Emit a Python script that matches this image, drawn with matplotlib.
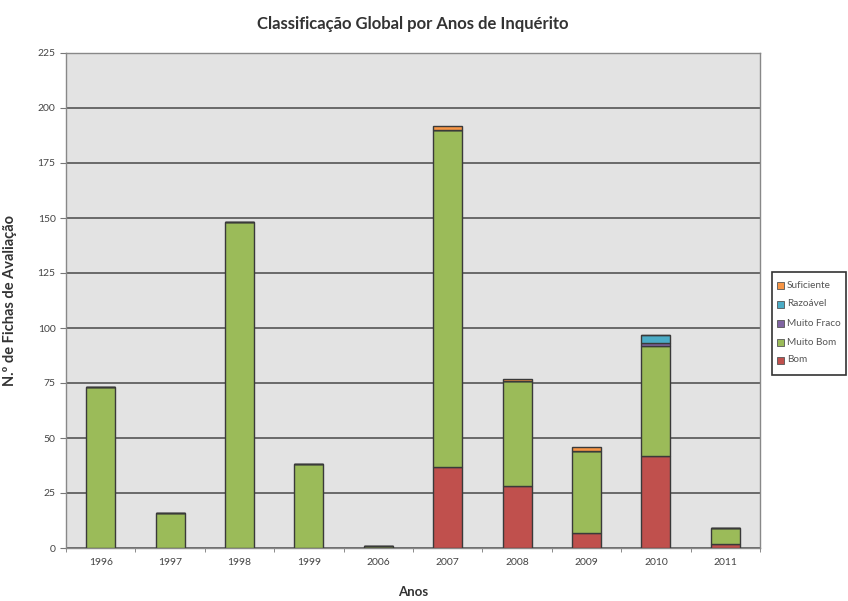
import matplotlib
matplotlib.use("Agg")
import matplotlib.pyplot as plt
from matplotlib.patches import Rectangle
import numpy as np

plt.rcParams["font.family"] = ["Lato", "DejaVu Sans"]

# Data
anos = ["1996", "1997", "1998", "1999", "2006", "2007", "2008", "2009", "2010", "2011"]
bom = [0, 0, 0, 0, 0, 37, 28, 7, 42, 2]
muito_bom = [73, 16, 148, 38, 1, 153, 48, 37, 50, 7]
muito_fraco = [0, 0, 0, 0, 0, 0, 0, 0, 1, 0]
razoavel = [0, 0, 0, 0, 0, 0, 0, 0, 4, 0]
suficiente = [0, 0, 0, 0, 0, 2, 1, 2, 0, 0]

series = [
    ("Bom", bom, "#c0504d"),
    ("Muito Bom", muito_bom, "#9bbb59"),
    ("Muito Fraco", muito_fraco, "#8064a2"),
    ("Razoável", razoavel, "#4bacc6"),
    ("Suficiente", suficiente, "#f79646"),
]

W, H = 848, 601
fig = plt.figure(figsize=(W / 100, H / 100), dpi=100)
ax = fig.add_axes([66 / W, 53 / H, (760 - 66) / W, (548 - 53) / H])
ax.set_facecolor("#e3e3e3")

x = np.arange(len(anos))
bottom = np.zeros(len(anos))
for name, vals, color in series:
    vals = np.array(vals, dtype=float)
    ax.bar(x, vals, width=0.42, bottom=bottom, color=color,
           edgecolor="#3a3a3a", linewidth=1, label=name, zorder=3)
    bottom += vals

ax.set_xlim(-0.5, len(anos) - 0.5)
ax.set_ylim(0, 225)
ax.set_yticks(np.arange(0, 226, 25))
ax.yaxis.grid(True, color="#555555", linewidth=1.2, zorder=1)
ax.set_axisbelow(True)

ax.set_xticks(x)
ax.set_xticklabels(anos)
ax.set_xticks(np.arange(-0.5, len(anos), 1), minor=True)
ax.tick_params(axis="x", which="major", length=0, labelsize=7.5, colors="#444444", pad=7)
ax.tick_params(axis="x", which="minor", length=3, color="#777777")
ax.tick_params(axis="y", labelsize=7.5, colors="#444444", length=4, color="#777777")

for s in ax.spines.values():
    s.set_color("#888888")
    s.set_linewidth(1)

ax.set_title("Classificação Global por Anos de Inquérito", fontsize=12,
             fontweight="bold", color="#333333", pad=17)
ax.set_xlabel("Anos", fontsize=9.5, fontweight="bold", color="#333333", labelpad=14)
fig.text(10 / W, 1 - 300 / H, "N.º de Fichas de Avaliação", rotation=90,
         ha="center", va="center", fontsize=10.5, fontweight="bold", color="#333333")

# legend box drawn by hand to sit at the figure's right edge
lx0, ly0, lx1, ly1 = 772, 272, 846, 375
box = Rectangle((lx0 / W, 1 - ly1 / H), (lx1 - lx0) / W, (ly1 - ly0) / H,
                transform=fig.transFigure, facecolor="white",
                edgecolor="#333333", linewidth=1.2)
fig.add_artist(box)
entry_y = [285, 304, 323, 342, 360]
for (name, vals, color), yy in zip(series[::-1], entry_y):
    fig.add_artist(Rectangle(((lx0 + 5) / W, 1 - (yy + 3.5) / H), 7 / W, 7 / H,
                             transform=fig.transFigure, facecolor=color,
                             edgecolor="#555555", linewidth=0.6))
    fig.text((lx0 + 15) / W, 1 - yy / H, name, ha="left", va="center",
             fontsize=7.2, color="#555555")

fig.savefig("out.png", dpi=100)
